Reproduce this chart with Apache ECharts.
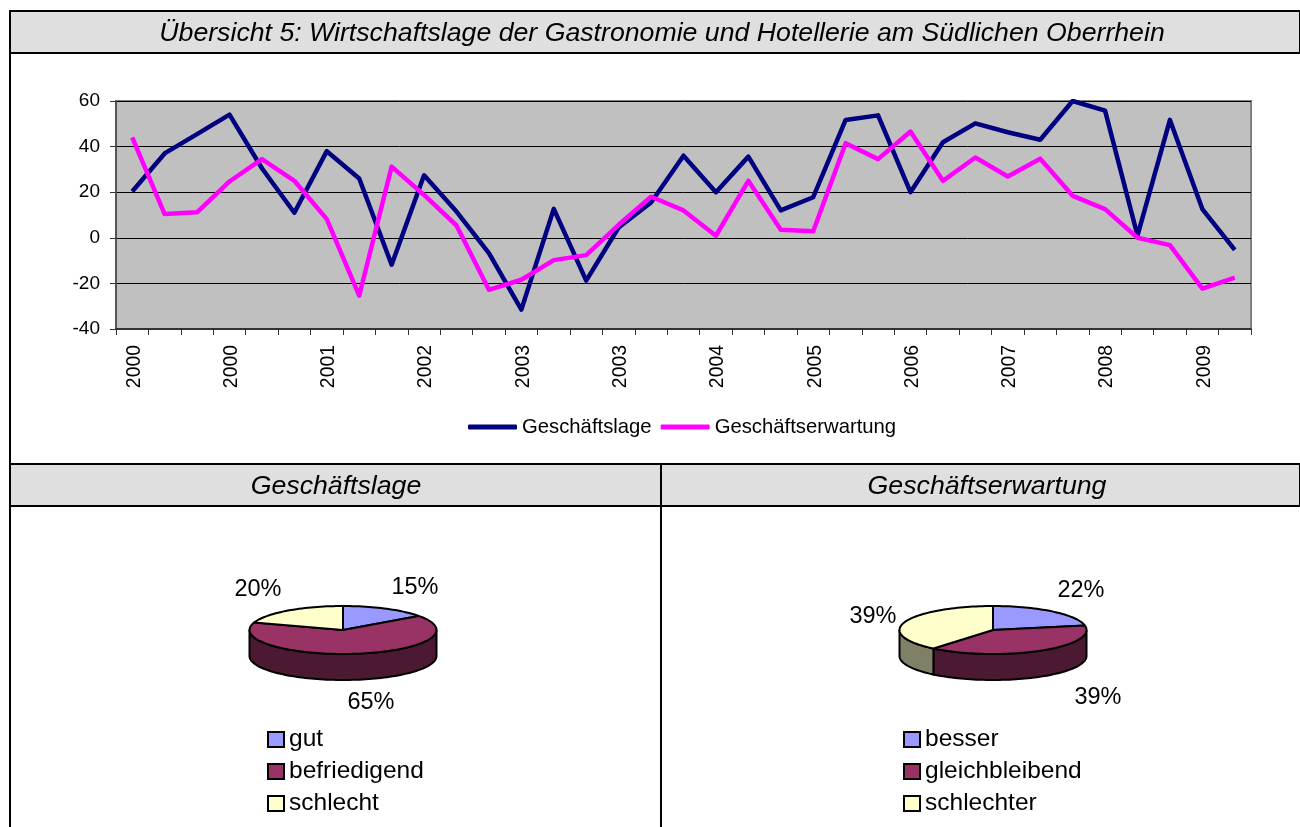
<!DOCTYPE html>
<html>
<head>
<meta charset="utf-8">
<title>Wirtschaftslage Gastronomie und Hotellerie</title>
<script src="https://cdn.jsdelivr.net/npm/echarts@6/dist/echarts.min.js"></script>
<style>
html, body { margin: 0; padding: 0; background: #fff; overflow: hidden; }
#chart { width: 1300px; height: 827px; }
</style>
</head>
<body>
<div id="chart"></div>
<script>
// Daten
var quarters = ['2000','2000','2000','2000','2000','2000','2001','2001','2001','2002','2002','2002','2003','2003','2003','2003','2003','2003',
    '2004','2004','2004','2005','2005','2005','2006','2006','2006','2007','2007','2007','2008','2008','2008','2009','2009'];
var lageValues = [20.3,37,45.5,54,30.5,11,38,26,-11.8,27.4,11.5,-6.7,-31.5,12.7,-18.8,4.5,15.5,36,
    20,35.6,12,17.8,51.7,53.7,20,41.9,50.2,46.3,43,60,55.8,1,51.7,12.6,-5.3];
var erwartungValues = [44,10.4,11.2,24.7,34.5,25,8.2,-25.4,31.2,18.8,5.4,-22.8,-18.4,-9.8,-7.6,5.7,18,12,
    0.9,25,3.5,2.9,41.5,34.5,46.6,25,35.2,26.9,34.7,18.4,12.6,0,-3.2,-22.3,-17.5];

var lageNames = ['gut','befriedigend','schlecht'];
var lageShares = [15,65,20];
var erwartungNames = ['besser','gleichbleibend','schlechter'];
var erwartungShares = [22,39,39];

var sliceColors = ['#9999ff','#993366','#ffffcc'];
var wallColors = ['#4c4c80','#4c1933','#808066'];

var FONT = '"Liberation Sans", Arial, sans-serif';

// Tortenstueck mit Seitenwand, Winkel aus den Daten
function ellipsePoint(pie, deg, dy) {
    var t = deg * Math.PI / 180;
    return [pie.cx + pie.rx * Math.sin(t), pie.cy - pie.ry * Math.cos(t) + (dy || 0)];
}

function renderSlice(pie, index) {
    return function (params, api) {
        var share = api.value(0);
        var before = api.value(1);
        var from = before * 3.6;
        var to = (before + share) * 3.6;
        var children = [];
        var d;

        var wallFrom = Math.max(from, 90);
        var wallTo = Math.min(to, 270);
        if (wallTo > wallFrom) {
            var upper = [];
            var lower = [];
            for (d = wallFrom; d < wallTo; d += 2) {
                upper.push(ellipsePoint(pie, d, 0));
                lower.unshift(ellipsePoint(pie, d, pie.depth));
            }
            upper.push(ellipsePoint(pie, wallTo, 0));
            lower.unshift(ellipsePoint(pie, wallTo, pie.depth));
            children.push({
                type: 'polygon',
                shape: { points: upper.concat(lower) },
                style: { fill: wallColors[index], stroke: '#000', lineWidth: 2 }
            });
        }

        var top = [[pie.cx, pie.cy]];
        for (d = from; d < to; d += 2) {
            top.push(ellipsePoint(pie, d, 0));
        }
        top.push(ellipsePoint(pie, to, 0));
        children.push({
            type: 'polygon',
            shape: { points: top },
            style: { fill: sliceColors[index], stroke: '#000', lineWidth: 2, lineJoin: 'round' }
        });

        children.push({
            type: 'text',
            style: {
                x: pie.labels[index][0],
                y: pie.labels[index][1],
                text: share + '%',
                font: '23.5px ' + FONT,
                fill: '#000',
                align: 'center',
                verticalAlign: 'middle'
            }
        });
        return { type: 'group', children: children };
    };
}

function pieSeries(names, shares, pie) {
    var list = [];
    var sum = 0;
    for (var i = 0; i < names.length; i++) {
        list.push({
            name: names[i],
            type: 'custom',
            coordinateSystem: 'none',
            silent: true,
            itemStyle: { color: sliceColors[i] },
            renderItem: renderSlice(pie, i),
            data: [[shares[i], sum]]
        });
        sum += shares[i];
    }
    return list;
}

var lagePie = { cx: 343, cy: 630, rx: 93.5, ry: 24, depth: 26, labels: [[415, 588], [371, 703], [258, 590]] };
var erwartungPie = { cx: 993, cy: 630, rx: 93.5, ry: 24, depth: 26, labels: [[1081, 591], [1098, 698], [873, 617]] };

function pieLegend(names, left) {
    return {
        data: names,
        orient: 'vertical',
        left: left,
        top: 726,
        icon: 'rect',
        itemWidth: 16,
        itemHeight: 15,
        itemGap: 5,
        padding: 0,
        selectedMode: false,
        itemStyle: { borderColor: '#000', borderWidth: 2 },
        textStyle: { fontFamily: FONT, fontSize: 24.5, color: '#000', lineHeight: 27 }
    };
}

function headerStyle() {
    return { fontFamily: FONT, fontSize: 26.7, fontStyle: 'italic', fontWeight: 'normal', color: '#000' };
}

var series = [
    {
        name: 'Geschäftslage',
        type: 'line',
        data: lageValues,
        symbol: 'none',
        z: 3,
        lineStyle: { color: '#000080', width: 4.5, join: 'round' },
        itemStyle: { color: '#000080' }
    },
    {
        name: 'Geschäftserwartung',
        type: 'line',
        data: erwartungValues,
        symbol: 'none',
        z: 4,
        lineStyle: { color: '#ff00ff', width: 4.5, join: 'round' },
        itemStyle: { color: '#ff00ff' }
    }
].concat(pieSeries(lageNames, lageShares, lagePie), pieSeries(erwartungNames, erwartungShares, erwartungPie));

var option = {
    animation: false,
    backgroundColor: '#fff',
    title: [
        { text: 'Übersicht 5: Wirtschaftslage der Gastronomie und Hotellerie am Südlichen Oberrhein', left: 662, top: 20, textAlign: 'center', padding: 0, textStyle: headerStyle() },
        { text: 'Geschäftslage', left: 336, top: 473, textAlign: 'center', padding: 0, textStyle: headerStyle() },
        { text: 'Geschäftserwartung', left: 987, top: 473, textAlign: 'center', padding: 0, textStyle: headerStyle() }
    ],
    legend: [
        {
            data: [
                { name: 'Geschäftslage', icon: 'roundRect' },
                { name: 'Geschäftserwartung', icon: 'roundRect' }
            ],
            left: 468,
            top: 417,
            padding: 0,
            itemWidth: 49,
            itemHeight: 5,
            itemGap: 9,
            selectedMode: false,
            textStyle: { fontFamily: FONT, fontSize: 20.3, color: '#000' }
        },
        pieLegend(lageNames, 267),
        pieLegend(erwartungNames, 903)
    ],
    graphic: [
        { type: 'rect', z: -10, shape: { x: 10, y: 11, width: 1290, height: 42 }, style: { fill: '#dfdfdf', stroke: '#000', lineWidth: 2 } },
        { type: 'rect', z: -10, shape: { x: 10, y: 464, width: 1290, height: 42 }, style: { fill: '#dfdfdf', stroke: '#000', lineWidth: 2 } },
        { type: 'line', z: -9, shape: { x1: 10, y1: 10, x2: 10, y2: 827 }, style: { stroke: '#000', lineWidth: 2 } },
        { type: 'line', z: -9, shape: { x1: 661, y1: 464, x2: 661, y2: 827 }, style: { stroke: '#000', lineWidth: 2 } }
    ],
    grid: {
        left: 116,
        top: 101,
        width: 1135,
        height: 228,
        show: true,
        backgroundColor: '#c0c0c0',
        borderColor: '#808080',
        borderWidth: 2
    },
    xAxis: {
        type: 'category',
        data: quarters,
        boundaryGap: true,
        axisLine: { onZero: false, lineStyle: { color: '#333', width: 2 } },
        axisTick: { show: true, interval: 0, length: 6, lineStyle: { color: '#333', width: 1 } },
        axisLabel: { interval: 2, rotate: 90, margin: 16, verticalAlign: 'top', lineHeight: 4, fontFamily: FONT, fontSize: 19.4, color: '#000', hideOverlap: false }
    },
    yAxis: {
        type: 'value',
        min: -40,
        max: 60,
        interval: 20,
        axisLine: { show: true, lineStyle: { color: '#555', width: 2 } },
        axisTick: { show: true, length: 6, lineStyle: { color: '#333', width: 1 } },
        axisLabel: { margin: 16, fontFamily: FONT, fontSize: 19, color: '#000' },
        splitLine: { show: true, lineStyle: { color: '#000', width: 1 } }
    },
    series: series
};

var chart = echarts.init(document.getElementById('chart'));
chart.setOption(option);
</script>
</body>
</html>
